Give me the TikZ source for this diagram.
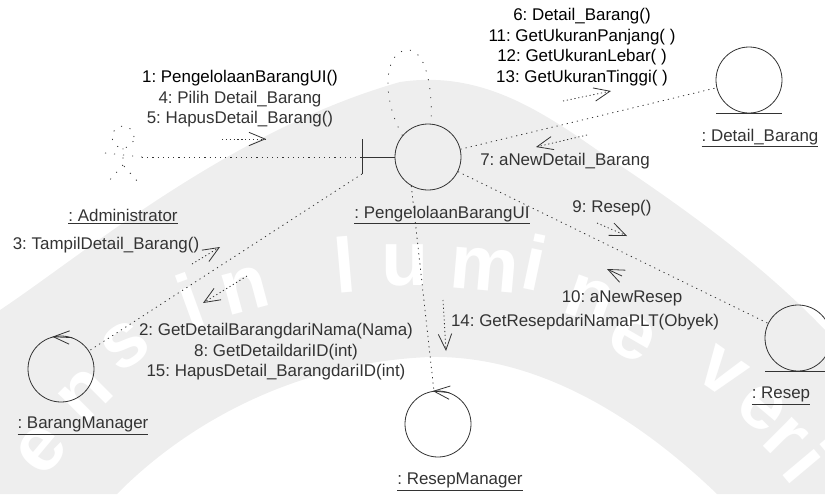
\documentclass[tikz,border=0pt]{standalone}
\usepackage{fontspec}
\setmainfont{Liberation Sans}
\usetikzlibrary{arrows.meta,positioning,calc}
\definecolor{wmgray}{gray}{0.935}
\definecolor{inkgray}{gray}{0.2}
\frenchspacing

\begin{document}
\begin{tikzpicture}[x=0.75pt,y=-0.75pt]
	\tikzset{>={Straight Barb[length=12pt,width=10pt]}}
	\tikzset{
		obj/.style={circle,draw=inkgray,line width=0.6pt,minimum size=49.5pt,inner sep=0pt},
		lbl/.style={text=inkgray,align=center,inner sep=0pt,font=\fontsize{12.7}{15.4}\selectfont},
		link/.style={draw=inkgray,line width=0.6pt,dash pattern=on 0.9pt off 3pt},
		faint/.style={draw=inkgray,line width=0.6pt,dash pattern=on 0.8pt off 6pt},
		msg/.style={draw=inkgray,line width=0.6pt,dash pattern=on 0.9pt off 2pt,->},
		head/.style={draw=inkgray,line width=0.6pt,->}
	}
	\useasboundingbox (0,0) rectangle (825,494);

	% watermark
	\fill[wmgray] (0,310) .. controls (80,257) and (230,130) .. (400,82) .. controls (480,70) and (540,110) .. (600,152)
		.. controls (680,205) and (760,262) .. (825,330) -- (825,494) -- (717,494)
		.. controls (640,420) and (540,355) .. (430,357) .. controls (300,362) and (190,420) .. (117,494) -- (0,494) -- cycle;
	\foreach \ch/\px/\py/\ang in {e/42/450/50,n/85/395/45,s/125/345/35,i/190/300/20,n/245/290/15,l/345/265/5,
		u/405/265/0,m/485/270/-5,i/535/262/-12,n/590/300/-20,e/632/338/-30,v/722/372/-35,e/762/408/-40,r/785/438/-45,i/808/462/-50}
		\node[text=white,inner sep=0pt,rotate=\ang,font=\bfseries\fontsize{58}{58}\selectfont] at (\px,\py) {\ch};

	% objects
	\node[obj] (pengUI) at (428,157) {};
	\node[obj] (detail) at (749,80) {};
	\node[obj] (resep) at (798,338) {};
	\node[obj] (barMgr) at (61,369) {};
	\node[obj] (resMgr) at (438,424) {};
	\coordinate (barTop) at (362,139);
	\coordinate (barMid) at (362,157);
	\coordinate (barBot) at (362,174);
	\draw[draw=inkgray,line width=0.7pt] (barTop) -- (barBot);
	\draw[draw=inkgray,line width=0.7pt] (barMid) -- (pengUI);
	\draw[draw=inkgray,line width=0.7pt] (detail.south) ++(-33,0) -- ++(66,0);
	\draw[draw=inkgray,line width=0.7pt] (resep.south) ++(-33,0) -- ++(60,0);
	\draw[head] (barMgr.70) -- (barMgr.105);
	\draw[head] (resMgr.70) -- (resMgr.99);

	% actor
	\node[circle,faint,minimum size=16.5pt,inner sep=0pt] (admin) at (123,137) {};
	\coordinate (adminHand) at (142,157);
	\draw[faint] (admin) -- (123,165) -- (138,182);
	\draw[faint] (123,165) -- (108,182);
	\draw[faint] (105,153) -- (adminHand);

	% links
	\draw[link] (adminHand) -- (barMid);
	\draw[link] (pengUI) -- (detail);
	\draw[link] (pengUI) -- (resep);
	\draw[link] (barBot) -- (barMgr);
	\draw[link] (pengUI.240) -- (resMgr.97);
	\draw[faint] (pengUI.140) .. controls (380,95) and (385,50) .. (408,50) .. controls (425,50) and (433,85) .. (pengUI.85);

	% messages
	\coordinate (m1a) at (222,139); \coordinate (m1b) at (266,139);
	\coordinate (m6a) at (563,101); \coordinate (m6b) at (611,91);
	\coordinate (m7a) at (587,135); \coordinate (m7b) at (536,147);
	\coordinate (m9a) at (597,223); \coordinate (m9b) at (627,236);
	\coordinate (m10a) at (622,276); \coordinate (m10b) at (607,269);
	\coordinate (m3a) at (192,264); \coordinate (m3b) at (220,247);
	\coordinate (m2a) at (247,276); \coordinate (m2b) at (203,303);
	\coordinate (m14a) at (443,300); \coordinate (m14b) at (446,351);
	\draw[msg] (m1a) -- (m1b);
	\draw[msg] (m6a) -- (m6b);
	\draw[msg] (m7a) -- (m7b);
	\draw[msg] (m9a) -- (m9b);
	\draw[head] (m10a) -- (m10b);
	\draw[msg] (m3a) -- (m3b);
	\draw[msg] (m2a) -- (m2b);
	\draw[msg] (m14a) -- (m14b);

	% labels
	\node[lbl] (lblAdmin) at (123,217) {\underline{: Administrator}};
	\node[lbl] (lblPeng) at (442,215) {\underline{: PengelolaanBarangUI}};
	\node[lbl] (lblDetail) at (760,138) {\underline{: Detail\_Barang}};
	\node[lbl] (lblResep) at (781,396) {\underline{: Resep}};
	\node[lbl] (lblBar) at (83,426) {\underline{: BarangManager}};
	\node[lbl] (lblRes) at (460,482) {\underline{: ResepManager}};
	\node[lbl] (msgA) at (240,99) {\textcolor{black}{1: PengelolaanBarangUI()}\\4: Pilih Detail\_Barang\\5: HapusDetail\_Barang()};
	\node[lbl,text=black] (msgB) at (582,47) {6: Detail\_Barang()\\11: GetUkuranPanjang( )\\12: GetUkuranLebar( )\\13: GetUkuranTinggi( )};
	\node[lbl] (msgC) at (565,161) {7: aNewDetail\_Barang};
	\node[lbl] (msgD) at (612,208) {9: Resep()};
	\node[lbl] (msgE) at (622,298) {10: aNewResep};
	\node[lbl] (msgF) at (585,322) {14: GetResepdariNamaPLT(Obyek)};
	\node[lbl] (msgG) at (276,352) {2: GetDetailBarangdariNama(Nama)\\8: GetDetaildariID(int)\\15: HapusDetail\_BarangdariID(int)};
	\node[lbl] (msgH) at (106,245) {3: TampilDetail\_Barang()};
\end{tikzpicture}
\end{document}
